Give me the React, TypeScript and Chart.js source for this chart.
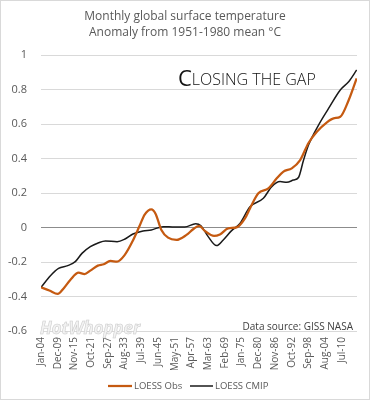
import { useEffect, useRef } from 'react';
import { Chart, registerables } from 'chart.js';
Chart.register(...registerables);

const titleLines = ['Monthly global surface temperature', 'Anomaly from 1951-1980 mean °C'];
const tickLabels = ['Jan-04', 'Dec-09', 'Nov-15', 'Oct-21', 'Sep-27', 'Aug-33', 'Jul-39', 'Jun-45', 'May-51', 'Apr-57', 'Mar-63', 'Feb-69', 'Jan-75', 'Dec-80', 'Nov-86', 'Oct-92', 'Sep-98', 'Aug-04', 'Jul-10'];

// x positions are measured in units of the tick-label interval (71 months)
const obsX = [0, 0.5, 1.0, 1.35, 1.75, 2.25, 2.6, 2.95, 3.4, 3.75, 4.15, 4.55, 5.0, 5.5, 5.9, 6.2, 6.6, 6.85, 7.2, 7.6, 8.1, 8.7, 9.1, 9.45, 9.8, 10.35, 10.7, 11.2, 11.7, 12.2, 12.5, 13.0, 13.6, 14.1, 14.5, 15.0, 15.5, 16.0, 16.5, 17.1, 17.5, 17.9, 18.4, 18.88];
const obsY = [-0.347, -0.365, -0.385, -0.353, -0.304, -0.262, -0.27, -0.25, -0.221, -0.213, -0.194, -0.198, -0.16, -0.075, 0.01, 0.075, 0.105, 0.08, -0.014, -0.059, -0.072, -0.043, -0.01, 0.01, -0.02, -0.049, -0.04, -0.005, 0.001, 0.053, 0.111, 0.198, 0.227, 0.285, 0.324, 0.343, 0.391, 0.49, 0.555, 0.61, 0.633, 0.642, 0.738, 0.865];

const cmipX = [0, 0.55, 1.05, 1.6, 2.05, 2.45, 2.95, 3.45, 3.85, 4.55, 5.0, 5.5, 6.1, 6.6, 7.3, 8.0, 8.6, 9.25, 9.55, 10.0, 10.5, 10.9, 11.4, 11.9, 12.5, 13.3, 13.8, 14.3, 14.7, 15.1, 15.4, 15.7, 16.0, 16.6, 17.2, 17.9, 18.4, 18.88];
const cmipY = [-0.347, -0.281, -0.237, -0.221, -0.198, -0.15, -0.111, -0.088, -0.078, -0.082, -0.068, -0.038, -0.02, -0.014, 0.005, 0.003, 0.003, 0.022, 0.012, -0.053, -0.105, -0.072, -0.018, 0.024, 0.12, 0.169, 0.237, 0.266, 0.262, 0.275, 0.29, 0.39, 0.478, 0.594, 0.69, 0.797, 0.845, 0.913];

const seriesNames = ['LOESS Obs', 'LOESS CMIP'];
const seriesColors = ['#C55A11', '#1a1a1a'];
const annotationText = 'CLOSING THE GAP';
const sourceText = 'Data source: GISS NASA';
const watermarkText = 'HotWhopper';

const FONT = '"Open Sans", "DejaVu Sans", sans-serif';

const decor = {
  id: 'decor',
  beforeDraw(chart: any) {
    const ctx = chart.ctx;
    ctx.save();
    ctx.fillStyle = '#ffffff';
    ctx.fillRect(0, 0, chart.width, chart.height);
    ctx.restore();
  },
  afterDraw(chart: any) {
    const ctx = chart.ctx;
    ctx.save();
    ctx.strokeStyle = '#d9d9d9';
    ctx.lineWidth = 1;
    ctx.strokeRect(0.5, 0.5, chart.width - 1, chart.height - 1);

    // title
    ctx.fillStyle = '#595959';
    ctx.font = `12px ${FONT}`;
    ctx.textAlign = 'center';
    ctx.textBaseline = 'middle';
    ctx.fillText(titleLines[0], 185, 17);
    ctx.fillText(titleLines[1], 185, 33);

    // annotation
    ctx.fillStyle = '#111111';
    ctx.textAlign = 'left';
    ctx.textBaseline = 'alphabetic';
    ctx.font = `22px ${FONT}`;
    ctx.fillText(annotationText.charAt(0), 178, 86);
    const cw = ctx.measureText(annotationText.charAt(0)).width;
    ctx.font = `300 16px ${FONT}`;
    ctx.fillText(annotationText.slice(1), 178 + cw, 85, 338 - 178 - cw);

    // watermark
    ctx.font = `italic bold 18px ${FONT}`;
    ctx.fillStyle = '#f2f2f2';
    ctx.strokeStyle = '#cccccc';
    ctx.lineWidth = 0.6;
    ctx.fillText(watermarkText, 40, 334, 100);
    ctx.strokeText(watermarkText, 40, 334, 100);

    // data source
    ctx.fillStyle = '#404040';
    ctx.font = `10px ${FONT}`;
    ctx.textAlign = 'right';
    ctx.textBaseline = 'middle';
    ctx.fillText(sourceText, 353, 327);

    // legend
    const ly = 386;
    const items = [
      { x1: 108, x2: 132, w: 2.25 },
      { x1: 190, x2: 213, w: 1.5 },
    ];
    ctx.font = `9.5px ${FONT}`;
    ctx.textAlign = 'left';
    items.forEach((it, i) => {
      ctx.strokeStyle = seriesColors[i];
      ctx.lineWidth = it.w;
      ctx.beginPath();
      ctx.moveTo(it.x1, ly);
      ctx.lineTo(it.x2, ly);
      ctx.stroke();
      ctx.fillStyle = '#595959';
      ctx.fillText(seriesNames[i], it.x2 + 2, ly);
    });
    ctx.restore();
  },
};

export default function App() {
  const ref = useRef<HTMLCanvasElement | null>(null);
  useEffect(() => {
    if (!ref.current) return;
    const chart = new Chart(ref.current, {
      type: 'line',
      data: {
        datasets: [
          {
            label: seriesNames[0],
            data: obsX.map((x, i) => ({ x, y: obsY[i] })),
            borderColor: seriesColors[0],
            borderWidth: 2.25,
            pointRadius: 0,
            cubicInterpolationMode: 'monotone',
            fill: false,
          },
          {
            label: seriesNames[1],
            data: cmipX.map((x, i) => ({ x, y: cmipY[i] })),
            borderColor: seriesColors[1],
            borderWidth: 1.5,
            pointRadius: 0,
            cubicInterpolationMode: 'monotone',
            fill: false,
          },
        ],
      },
      options: {
        animation: false,
        responsive: false,
        maintainAspectRatio: false,
        layout: { padding: { top: 55, left: 0, right: 13, bottom: 30 } },
        plugins: { legend: { display: false }, title: { display: false }, tooltip: { enabled: false } },
        scales: {
          x: {
            type: 'linear',
            min: 0,
            max: 18.9,
            grid: { display: false, drawTicks: false },
            border: { display: false },
            afterBuildTicks: (scale: any) => {
              scale.ticks = tickLabels.map((_, i) => ({ value: i }));
            },
            afterFit: (scale: any) => {
              scale.height = 39;
            },
            ticks: {
              autoSkip: false,
              maxRotation: 90,
              minRotation: 90,
              padding: 6,
              color: '#595959',
              font: { family: FONT, size: 10 },
              callback: (v: any) => tickLabels[Math.round(Number(v))] ?? '',
            },
          },
          y: {
            min: -0.6,
            max: 1,
            grid: {
              drawTicks: false,
              color: (c: any) => (Math.abs(c.tick.value) < 1e-9 ? '#8c8c8c' : '#d9d9d9'),
              lineWidth: 1,
            },
            border: { display: false },
            afterFit: (scale: any) => {
              scale.width = 41;
            },
            ticks: {
              stepSize: 0.2,
              padding: 14,
              color: '#595959',
              font: { family: FONT, size: 11 },
              callback: (v: any) => String(Number(Number(v).toFixed(1))),
            },
          },
        },
      },
      plugins: [decor],
    } as any);
    return () => chart.destroy();
  }, []);
  return (
    <div style={{ position: 'absolute', left: 0, top: 0, width: 370, height: 400 }}>
      <canvas ref={ref} width={370} height={400} style={{ width: 370, height: 400, display: 'block' }} />
    </div>
  );
}
